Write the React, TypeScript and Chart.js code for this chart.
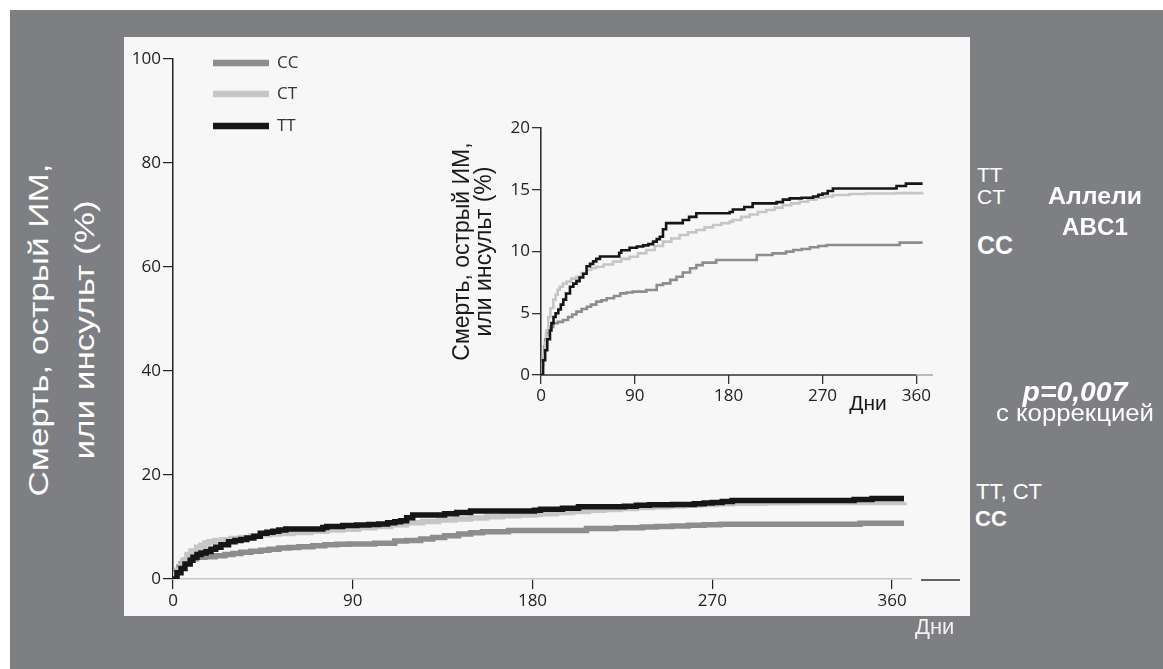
import React, { useEffect, useRef } from "react";
import { Chart, registerables } from "chart.js";

Chart.register(...registerables);

// ---------- DATA ----------
const seriesLabels = ["CC", "CT", "TT"];

const ttDays = [0, 2, 4, 6, 8.6, 10, 12, 14, 16.6, 19, 21.4, 24, 27.8, 31, 34, 37, 40.5, 43.7, 47, 50, 53, 56.5, 72.5, 75, 77, 85, 92, 98, 103, 107.5, 111, 114, 117, 120, 130, 136, 142, 149, 181, 184, 195, 203, 226, 232, 238.5, 250, 261, 266, 270, 275, 280, 337, 341, 350, 366];
const ttValues = [0, 1.2, 2.0, 2.9, 3.6, 4.2, 4.7, 5.0, 5.3, 5.7, 6.1, 6.6, 7.15, 7.4, 7.6, 7.9, 8.2, 8.8, 9.0, 9.2, 9.4, 9.6, 9.6, 9.9, 10.1, 10.3, 10.4, 10.5, 10.6, 10.8, 11.0, 11.2, 11.8, 12.3, 12.3, 12.55, 12.8, 13.1, 13.2, 13.4, 13.6, 13.9, 14.0, 14.2, 14.3, 14.35, 14.45, 14.6, 14.7, 14.9, 15.1, 15.1, 15.3, 15.5, 15.5];

const ctDays = [0, 1, 2, 3.8, 5, 7, 9, 11.8, 14, 16, 18, 21, 24.6, 29, 34, 39, 43.7, 48, 53, 60, 69, 77, 85, 93, 101, 109, 117, 125, 133, 141, 149, 157, 165, 173, 181, 184, 192, 200, 208, 216, 224, 232, 240, 248, 256, 264, 272, 280, 296, 312, 340, 366];
const ctValues = [0, 0.9, 1.7, 2.6, 3.6, 4.7, 5.4, 6.1, 6.5, 6.9, 7.15, 7.4, 7.56, 7.8, 7.96, 8.25, 8.5, 8.65, 8.77, 8.95, 9.18, 9.4, 9.58, 9.85, 10.12, 10.45, 10.8, 11.05, 11.34, 11.55, 11.74, 11.95, 12.15, 12.3, 12.42, 12.55, 12.8, 13.0, 13.2, 13.36, 13.55, 13.75, 13.9, 14.03, 14.2, 14.35, 14.45, 14.57, 14.65, 14.7, 14.73, 14.76];

const ccDays = [0, 1, 2, 3, 4, 5, 6, 8, 11.8, 16, 21, 26, 30, 34, 39, 44, 48, 53, 58, 63, 70, 76, 82, 88, 101, 111, 117, 124, 130, 136, 143, 149, 155, 168, 200, 207, 222, 235, 242, 250, 258, 266, 274, 341, 344, 366];
const ccValues = [0, 0.8, 1.6, 2.3, 2.9, 3.3, 3.6, 3.9, 4.19, 4.3, 4.45, 4.7, 4.9, 5.13, 5.35, 5.53, 5.7, 5.94, 6.05, 6.21, 6.4, 6.61, 6.68, 6.75, 6.88, 7.29, 7.42, 7.7, 7.96, 8.3, 8.64, 8.9, 9.1, 9.31, 9.31, 9.72, 9.85, 9.99, 10.12, 10.2, 10.34, 10.45, 10.53, 10.53, 10.72, 10.72];

const dayTicks = [0, 90, 180, 270, 360];
const mainYTicks = [0, 20, 40, 60, 80, 100];
const insetYTicks = [0, 5, 10, 15, 20];

const insetTitle = ["Смерть, острый ИМ,", "или инсульт (%)"];
const mainTitle = ["Смерть, острый ИМ,", "или инсульт (%)"];

// ---------- STYLE ----------
const colors: Record<string, string> = { CC: "#8d8d90", CT: "#c6c6c6", TT: "#161616" };
const TICK_FONT = "Open Sans";
const TEXT_FONT = "'Liberation Sans', Arial, sans-serif";

function pts(days: number[], vals: number[]) {
  return days.map((d, i) => ({ x: d, y: vals[i] }));
}

function makeDatasets(width: number) {
  const series: Record<string, { x: number; y: number }[]> = {
    CC: pts(ccDays, ccValues),
    CT: pts(ctDays, ctValues),
    TT: pts(ttDays, ttValues),
  };
  const order: Record<string, number> = { CC: 3, CT: 2, TT: 1 };
  return seriesLabels.map((l) => ({
    label: l,
    data: series[l],
    borderColor: colors[l],
    backgroundColor: colors[l],
    borderWidth: width,
    pointRadius: 0,
    stepped: true as const,
    fill: false,
    order: order[l],
    borderCapStyle: "butt" as const,
  }));
}

const setTicks = (vals: number[]) => (s: any) => {
  s.ticks = vals.map((v) => ({ value: v }));
};

const legendPlugin = {
  id: "innerLegend",
  afterDraw(chart: any) {
    const { ctx, chartArea } = chart;
    const rows = [4, 35, 67];
    ctx.save();
    chart.data.datasets.forEach((ds: any, i: number) => {
      const y = chartArea.top + rows[i];
      ctx.strokeStyle = ds.borderColor;
      ctx.lineWidth = 6.5;
      ctx.beginPath();
      ctx.moveTo(chartArea.left + 40, y);
      ctx.lineTo(chartArea.left + 96, y);
      ctx.stroke();
      ctx.fillStyle = "#333";
      ctx.font = `17px ${TICK_FONT}`;
      ctx.textBaseline = "middle";
      ctx.textAlign = "left";
      ctx.fillText(ds.label, chartArea.left + 104, y);
    });
    ctx.restore();
  },
};

const dashPlugin = {
  id: "rightDash",
  afterDraw(chart: any) {
    const { ctx, chartArea } = chart;
    ctx.save();
    ctx.strokeStyle = "#333";
    ctx.lineWidth = 1.5;
    ctx.beginPath();
    ctx.moveTo(chartArea.right + 9, chartArea.bottom + 1);
    ctx.lineTo(chartArea.right + 48, chartArea.bottom + 1);
    ctx.stroke();
    ctx.restore();
  },
};

const insetAxisPlugin = {
  id: "insetAxis",
  beforeDatasetsDraw(chart: any) {
    const { ctx, chartArea, scales } = chart;
    const x360 = scales.x.getPixelForValue(360);
    ctx.save();
    ctx.lineWidth = 1.6;
    ctx.strokeStyle = "#333";
    ctx.beginPath();
    ctx.moveTo(chartArea.left, chartArea.bottom);
    ctx.lineTo(x360, chartArea.bottom);
    ctx.stroke();
    ctx.strokeStyle = "#aaa";
    ctx.beginPath();
    ctx.moveTo(x360, chartArea.bottom);
    ctx.lineTo(chartArea.right, chartArea.bottom);
    ctx.stroke();
    ctx.restore();
  },
};

function Label(props: {
  x: number;
  y: number;
  text: string;
  size: number;
  bold?: boolean;
  italic?: boolean;
  align?: "left" | "center";
  color?: string;
  sx?: number;
}) {
  const { x, y, text, size, bold, italic, align = "left", color = "#ffffff", sx = 1 } = props;
  const lh = size * 1.2;
  const w = 400;
  const style: React.CSSProperties = {
    position: "absolute",
    top: y - lh / 2,
    left: align === "center" ? x - w / 2 : x,
    width: align === "center" ? w : undefined,
    textAlign: align,
    lineHeight: `${lh}px`,
    fontSize: size,
    fontFamily: TEXT_FONT,
    fontWeight: bold ? 700 : 400,
    fontStyle: italic ? "italic" : "normal",
    color,
    whiteSpace: "nowrap",
    transform: sx !== 1 ? `scaleX(${sx})` : undefined,
    transformOrigin: align === "center" ? "50% 50%" : "0 50%",
  };
  return <div style={style}>{text}</div>;
}

export default function App() {
  const mainRef = useRef<HTMLCanvasElement>(null);
  const insetRef = useRef<HTMLCanvasElement>(null);

  useEffect(() => {
    const tickFont = { family: TICK_FONT, size: 17 };
    const main = new Chart(mainRef.current!, {
      type: "line",
      data: { datasets: makeDatasets(5.5) as any },
      options: {
        animation: false,
        responsive: false,
        maintainAspectRatio: false,
        layout: { padding: { left: 0, top: 22, right: 58, bottom: 0 } },
        plugins: { legend: { display: false }, tooltip: { enabled: false } },
        scales: {
          x: {
            type: "linear",
            min: 0,
            max: 370,
            afterBuildTicks: setTicks(dayTicks),
            afterFit: (s: any) => {
              s.height = 37;
            },
            border: { color: "#c8c8c8", width: 1.5 },
            grid: { drawOnChartArea: false, tickLength: 10, tickColor: "#222", lineWidth: 1.2 },
            ticks: { font: tickFont, color: "#222", padding: 2, maxRotation: 0 },
          },
          y: {
            type: "linear",
            min: 0,
            max: 100,
            afterBuildTicks: setTicks(mainYTicks),
            afterFit: (s: any) => {
              s.width = 49;
            },
            border: { color: "#222", width: 1.5 },
            grid: { drawOnChartArea: false, tickLength: 10, tickColor: "#222", lineWidth: 1.2 },
            ticks: { font: tickFont, color: "#222", padding: 2 },
          },
        },
      } as any,
      plugins: [legendPlugin, dashPlugin],
    });

    const inset = new Chart(insetRef.current!, {
      type: "line",
      data: { datasets: makeDatasets(2.6) as any },
      options: {
        animation: false,
        responsive: false,
        maintainAspectRatio: false,
        layout: { padding: { left: 0, top: 18, right: 17, bottom: 0 } },
        plugins: { legend: { display: false }, tooltip: { enabled: false } },
        scales: {
          x: {
            type: "linear",
            min: 0,
            max: 376,
            afterBuildTicks: setTicks(dayTicks),
            afterFit: (s: any) => {
              s.height = 40;
            },
            border: { display: false },
            grid: { drawOnChartArea: false, tickLength: 9, tickColor: "#333", lineWidth: 1.3 },
            ticks: { font: tickFont, color: "#222", padding: 2, maxRotation: 0 },
          },
          y: {
            type: "linear",
            min: 0,
            max: 20,
            afterBuildTicks: setTicks(insetYTicks),
            afterFit: (s: any) => {
              s.width = 101;
            },
            border: { color: "#333", width: 1.6 },
            grid: { drawOnChartArea: false, tickLength: 9, tickColor: "#333", lineWidth: 1.3 },
            ticks: { font: tickFont, color: "#222", padding: 2 },
            title: {
              display: true,
              text: insetTitle,
              color: "#1a1a1a",
              font: { family: "Liberation Sans", size: 23, lineHeight: 0.96 },
              padding: { top: 12, bottom: 0 },
            },
          },
        },
      } as any,
      plugins: [insetAxisPlugin],
    });

    return () => {
      main.destroy();
      inset.destroy();
    };
  }, []);

  return (
    <div
      style={{
        position: "fixed",
        left: 0,
        top: 0,
        width: 1163,
        height: 669,
        background: "#ffffff",
        overflow: "hidden",
      }}
    >
      <div style={{ position: "absolute", left: 10, top: 10, width: 1153, height: 659, background: "#7e7f83" }} />
      <div style={{ position: "absolute", left: 124, top: 37, width: 846, height: 579, background: "#f7f7f7" }} />
      <canvas ref={mainRef} width={846} height={579} style={{ position: "absolute", left: 124, top: 37 }} />
      <canvas ref={insetRef} width={510} height={305} style={{ position: "absolute", left: 440, top: 110 }} />

      {/* big rotated axis title */}
      <div
        style={{
          position: "absolute",
          left: 62 - 200,
          top: 330 - 46,
          width: 400,
          height: 92,
          lineHeight: "46px",
          fontSize: 27,
          fontFamily: TEXT_FONT,
          color: "#ffffff",
          textAlign: "center",
          whiteSpace: "nowrap",
          transform: "rotate(-90deg) scaleX(1.3)",
          transformOrigin: "50% 50%",
        }}
      >
        <div>{mainTitle[0]}</div>
        <div>{mainTitle[1]}</div>
      </div>

      <Label x={868} y={403} text="Дни" size={21} color="#1a1a1a" align="center" />
      <Label x={915} y={627} text="Дни" size={22} color="#f2f2f2" />

      <Label x={977} y={175} text="TT" size={21} />
      <Label x={977} y={197} text="CT" size={21} />
      <Label x={977} y={245} text="CC" size={25} bold />
      <Label x={1095} y={197} text="Аллели" size={23} bold align="center" sx={1.08} />
      <Label x={1095} y={228} text="ABC1" size={23} bold align="center" sx={1.05} />
      <Label x={1075} y={392} text="p=0,007" size={27} bold italic align="center" sx={1.05} />
      <Label x={1075} y={414} text="с коррекцией" size={23} align="center" sx={1.12} />
      <Label x={976} y={492} text="TT, CT" size={22} />
      <Label x={975} y={519} text="CC" size={22} bold />
    </div>
  );
}
